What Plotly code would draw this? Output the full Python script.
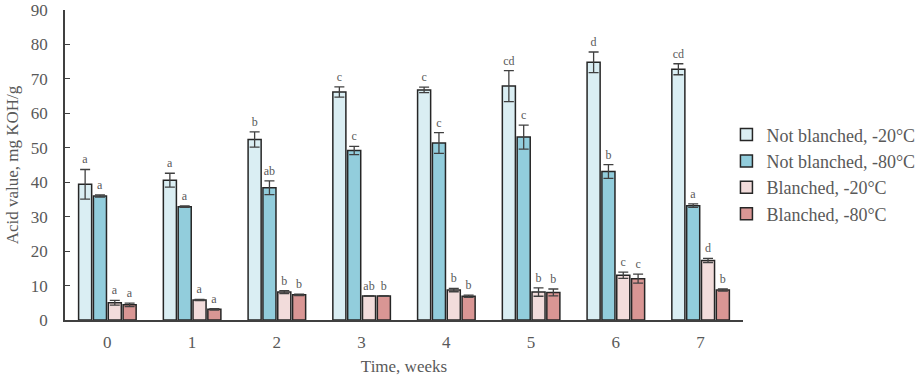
import plotly.graph_objects as go

weeks = ["0", "1", "2", "3", "4", "5", "6", "7"]
series_names = ["Not blanched, -20°C", "Not blanched, -80°C", "Blanched, -20°C", "Blanched, -80°C"]
nb20 = [39.4, 40.6, 52.4, 66.2, 66.8, 67.9, 74.8, 72.8]
nb20_err = [4.3, 2.0, 2.2, 1.5, 0.8, 4.5, 3.0, 1.6]
nb20_lab = ["a", "a", "b", "c", "c", "cd", "d", "cd"]
nb80 = [36.0, 32.9, 38.4, 49.2, 51.4, 53.1, 43.1, 33.2]
nb80_err = [0.3, 0.2, 2.0, 1.2, 3.0, 3.5, 2.0, 0.5]
nb80_lab = ["a", "a", "ab", "c", "c", "c", "b", "a"]
b20 = [5.0, 5.8, 8.1, 7.0, 8.7, 8.1, 13.0, 17.3]
b20_err = [0.7, 0.2, 0.4, 0.1, 0.5, 1.2, 0.9, 0.6]
b20_lab = ["a", "a", "b", "ab", "b", "b", "c", "d"]
b80 = [4.4, 3.1, 7.3, 7.0, 6.9, 8.0, 12.0, 8.7]
b80_err = [0.5, 0.2, 0.2, 0.1, 0.3, 1.0, 1.3, 0.3]
b80_lab = ["a", "a", "b", "b", "b", "b", "c", "b"]

colors = ["#DAEEF3", "#92CDDC", "#F2DCDB", "#D99694"]
values = [nb20, nb80, b20, b80]
errors = [nb20_err, nb80_err, b20_err, b80_err]
labels = [nb20_lab, nb80_lab, b20_lab, b80_lab]

font_family = "Liberation Serif, Times New Roman, serif"
text_color = "#595959"

fig = go.Figure()
for i in range(4):
    fig.add_trace(go.Bar(
        x=weeks, y=values[i], name=series_names[i], offsetgroup=str(i),
        legendgroup=str(i),
        marker=dict(color=colors[i], line=dict(color="#262626", width=1.5)),
        error_y=dict(type="data", array=errors[i], color="#404040", thickness=1.3, width=5),
        hoverinfo="skip",
    ))
for i in range(4):
    tops = [v + e for v, e in zip(values[i], errors[i])]
    fig.add_trace(go.Bar(
        x=weeks, y=tops, offsetgroup=str(i), showlegend=False, legendgroup=str(i),
        marker=dict(color="rgba(0,0,0,0)", line=dict(width=0)),
        text=labels[i], textposition="outside", constraintext="none", cliponaxis=False,
        textfont=dict(family=font_family, size=12, color=text_color),
        outsidetextfont=dict(family=font_family, size=12, color=text_color),
        hoverinfo="skip",
    ))

# plot area: x 65..743, y 10..320 ; paper spans 65..913
fig.update_layout(
    width=919, height=379,
    margin=dict(l=65, r=6, t=10, b=59, autoexpand=False),
    barmode="group", bargap=0.3, bargroupgap=0.12,
    plot_bgcolor="white", paper_bgcolor="white",
    font=dict(family=font_family, color=text_color, size=17),
    legend=dict(x=0.78, y=0.47, xanchor="left", yanchor="middle",
                font=dict(size=18, color=text_color), traceorder="normal",
                itemwidth=30, tracegroupgap=4, bgcolor="rgba(0,0,0,0)"),
    xaxis=dict(domain=[0, 0.7995], showline=True, linecolor="#404040", linewidth=1.5, ticks="",
               tickfont=dict(size=17), automargin=False, ticklabelstandoff=6,
               title=dict(text="Time, weeks", font=dict(size=17), standoff=9),
               range=[-0.5, 7.5]),
    yaxis=dict(range=[0, 90], dtick=10, showgrid=False, zeroline=False, showline=True,
               linecolor="#404040", linewidth=1.5, ticks="inside", ticklen=5, tickcolor="#404040",
               tickfont=dict(size=17), automargin=False, ticklabelstandoff=12,
               title=dict(text="Acid value, mg KOH/g", font=dict(size=17), standoff=8)),
)

fig.write_html("out.html")
